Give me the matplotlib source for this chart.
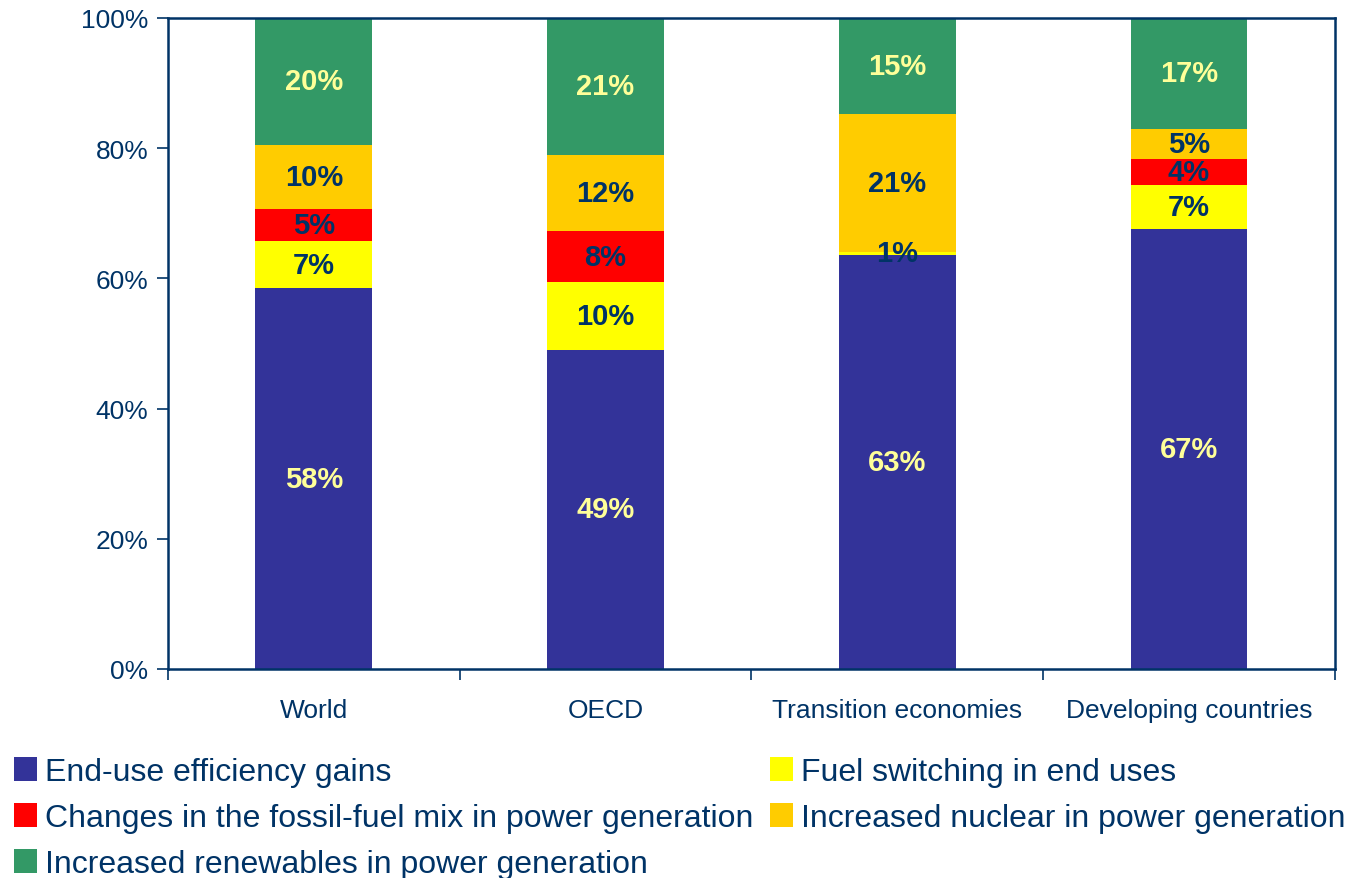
import numpy as np
import matplotlib.pyplot as plt
from matplotlib.patches import Patch
from matplotlib.ticker import FuncFormatter

plt.rcParams['font.family'] = ['Liberation Sans', 'DejaVu Sans']

regions = ['World', 'OECD', 'Transition economies', 'Developing countries']
series = ['End-use efficiency gains',
          'Fuel switching in end uses',
          'Changes in the fossil-fuel mix in power generation',
          'Increased nuclear in power generation',
          'Increased renewables in power generation']

# shares (% of total)
efficiency = [58.5, 49.0, 63.6, 67.6]
fuel_switch = [7.2, 10.4, 0.5, 6.8]
fossil_mix = [5.0, 7.9, 0.0, 4.0]
nuclear = [9.8, 11.7, 21.2, 4.6]
renewables = [19.5, 21.0, 14.7, 17.0]
shown = [[58, 49, 63, 67], [7, 10, 1, 7], [5, 8, None, 4], [10, 12, 21, 5], [20, 21, 15, 17]]

colors = ['#333399', '#FFFF00', '#FF0000', '#FFCC00', '#339966']
label_colors = ['#FFFF99', '#003366', '#003366', '#003366', '#FFFF99']
navy = '#003366'

data = [efficiency, fuel_switch, fossil_mix, nuclear, renewables]

fig = plt.figure(figsize=(13.51, 8.79), dpi=100)
ax = fig.add_axes([0.1243, 0.2378, 0.8638, 0.7406])

x = np.arange(len(regions))
bottom = np.zeros(len(regions))
for vals, col, lc, txt in zip(data, colors, label_colors, shown):
    vals = np.array(vals)
    ax.bar(x, vals, 0.4, bottom=bottom, color=col, edgecolor='none', zorder=2)
    for i in range(len(regions)):
        if txt[i] is None:
            continue
        ax.text(x[i], bottom[i] + vals[i] / 2, '%d%%' % txt[i], ha='center', va='center',
                fontsize=21, fontweight='bold', color=lc, zorder=3)
    bottom += vals

ax.set_xlim(-0.5, 3.5)
ax.set_ylim(0, 100)
ax.set_yticks(np.arange(0, 101, 20))
ax.yaxis.set_major_formatter(FuncFormatter(lambda v, p: '%d%%' % v))
ax.set_xticks(np.arange(-0.5, 4, 1))
ax.set_xticklabels([])
ax.set_xticks(x, minor=True)
ax.set_xticklabels(regions, minor=True)
ax.tick_params(axis='x', which='minor', length=0, pad=21, labelsize=19, labelcolor=navy)
ax.tick_params(axis='x', which='major', length=8, width=1.2, color=navy, direction='out')
ax.tick_params(axis='y', length=8, width=1.2, color=navy, labelsize=19, labelcolor=navy, pad=6)
for s in ax.spines.values():
    s.set_color(navy)
    s.set_linewidth(1.8)

handles = [Patch(facecolor=c, edgecolor='none') for c in colors]
# matplotlib fills legend columns first; this gives the row-wise order of the reference
order = [0, 2, 4, 1, 3]
fig.legend([handles[i] for i in order], [series[i] for i in order], ncol=2,
           loc='upper left', bbox_to_anchor=(0.0105, 0.138), frameon=False,
           fontsize=23, labelcolor=navy, handlelength=0.7, handleheight=0.8,
           handletextpad=0.25, columnspacing=0.55, labelspacing=0.49,
           borderaxespad=0, borderpad=0)

fig.savefig('out.png', dpi=100)
